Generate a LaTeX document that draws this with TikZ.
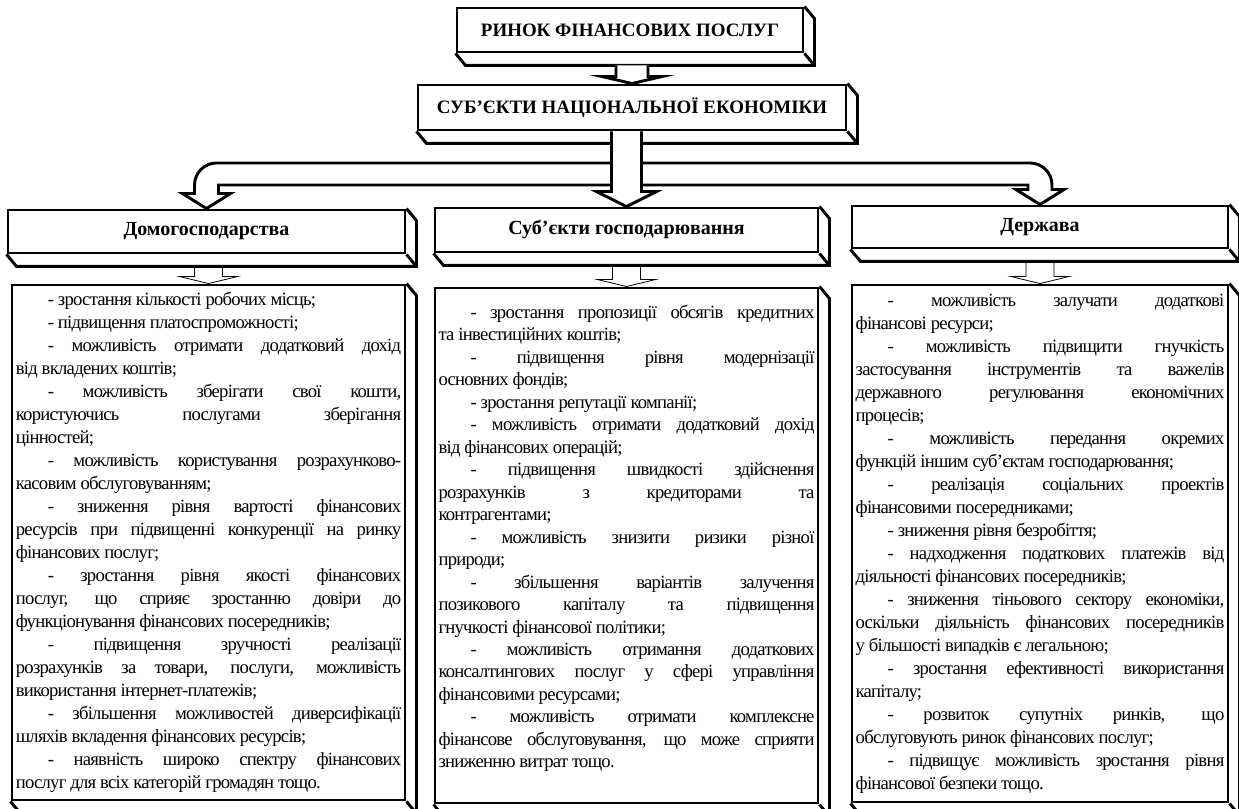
\documentclass[tikz,border=0pt]{standalone}
\usepackage{fontspec}
\setmainfont{Liberation Serif}
\usetikzlibrary{calc}

\hyphenpenalty=10000
\exhyphenpenalty=10000
\tolerance=10000

\newcommand\body{\fontsize{14}{17.25}\selectfont\addfontfeatures{LetterSpace=-4}}
\newcommand\bodym{\fontsize{14}{16.85}\selectfont\addfontfeatures{LetterSpace=-4}}
\newcommand\head{\fontsize{15}{18}\selectfont\bfseries}
\newcommand\toptitle{\fontsize{14.2}{17}\selectfont\bfseries}

% depth of a box, drawn to the lower right
\newcommand\cube[1]{%
  \draw[edge] (#1.north east) -- ++(10,12) -- ($(#1.south east)+(10,12)$)
    -- ($(#1.south west)+(10,12)$) -- (#1.south west)
    (#1.south east) -- ++(10,12);
  \coordinate (#1b) at ($(#1.south)+(0,12)$);}

% block arrow down: [style]{from}{to}{half shaft}{half head}{head length}
\newcommand\blockarr[6][]{%
  \draw[#1] ($(#2 -| #3)+(-#4,0)$) -- ($(#3)+(-#4,-#6)$) -- ($(#3)+(-#5,-#6)$)
    -- (#3) -- ($(#3)+(#5,-#6)$) -- ($(#3)+(#4,-#6)$) -- ($(#2 -| #3)+(#4,0)$);}

\begin{document}
\begin{tikzpicture}[
  x=0.75pt, y=-0.75pt,
  edge/.style={draw, line width=2.2pt, line join=miter},
  box/.style={edge, fill=white, inner sep=0pt, align=center},
  title/.style={box, font=\toptitle, minimum height=33pt},
  hd/.style={box, font=\head},
  txt/.style={box, font=\body, align=justify, inner xsep=2.5pt,
    minimum height=386.25pt,
    execute at begin node={\setlength\parindent{24pt}\hspace*{\parindent}}},
  blk/.style={edge, fill=white},
  thinarr/.style={draw, line width=0.6pt}
]
  \useasboundingbox (0,0) rectangle (1239,809);
  \clip (0,0) rectangle (1239,809);
  \fill[white] (0,0) rectangle (1239,809);

  \node[title, minimum width=259.5pt] (market) at (630,30) {РИНОК ФІНАНСОВИХ ПОСЛУГ};
  \node[title, minimum width=321pt, minimum height=33.75pt] (nat) at (632,107.5)
    {СУБ’ЄКТИ НАЦІОНАЛЬНОЇ ЕКОНОМІКИ};

  \node[hd, minimum width=297.75pt, minimum height=32.25pt] (house) at (206.5,231.5)
    {Домогосподарства};
  \node[hd, minimum width=287.25pt, minimum height=33pt] (firm) at (626.5,230)
    {Суб’єкти господарювання};
  \node[hd, minimum width=282pt, minimum height=31.5pt] (state) at (1040,227)
    {Держава};

  \node[txt, text width=289pt, minimum width=294.75pt] (houseT) at (208.5,542.5) {%
    - зростання кількості робочих місць;\par
    - підвищення платоспроможності;\par
    - можливість отримати додатковий дохід \linebreak від вкладених коштів;\par
    - можливість зберігати свої кошти, \linebreak користуючись послугами зберігання
      \linebreak цінностей;\par
    - можливість користування розрахунково-\linebreak касовим обслуговуванням;\par
    - зниження рівня вартості фінансових \linebreak ресурсів при підвищенні конкуренції на ринку
      \linebreak фінансових послуг;\par
    - зростання рівня якості фінансових \linebreak послуг, що сприяє зростанню довіри до
      \linebreak функціонування фінансових посередників;\par
    - підвищення зручності реалізації \linebreak розрахунків за товари, послуги, можливість
      \linebreak використання інтернет-платежів;\par
    - збільшення можливостей диверсифікації \linebreak шляхів вкладення фінансових ресурсів;\par
    - наявність широко спектру фінансових \linebreak послуг для всіх категорій громадян тощо.};
  \node[txt, font=\bodym, text width=282pt, minimum width=287.25pt] (firmT) at (626.5,545.5) {%
    - зростання пропозиції обсягів кредитних \linebreak та інвестиційних коштів;\par
    - підвищення рівня модернізації \linebreak основних фондів;\par
    - зростання репутації компанії;\par
    - можливість отримати додатковий дохід \linebreak від фінансових операцій;\par
    - підвищення швидкості здійснення \linebreak розрахунків з кредиторами та
      \linebreak контрагентами;\par
    - можливість знизити ризики різної \linebreak природи;\par
    - збільшення варіантів залучення \linebreak позикового капіталу та підвищення
      \linebreak гнучкості фінансової політики;\par
    - можливість отримання додаткових \linebreak консалтингових послуг у сфері управління
      \linebreak фінансовими ресурсами;\par
    - можливість отримати комплексне \linebreak фінансове обслуговування, що може сприяти
      \linebreak зниженню витрат тощо.\par\nointerlineskip\vbox to 10.5pt{}};
  \node[txt, text width=276.5pt, minimum width=282pt, minimum height=387.75pt] (stateT)
    at (1040,543.5) {%
    - можливість залучати додаткові \linebreak фінансові ресурси;\par
    - можливість підвищити гнучкість \linebreak застосування інструментів та важелів
      \linebreak державного регулювання економічних \linebreak процесів;\par
    - можливість передання окремих \linebreak функцій іншим суб’єктам господарювання;\par
    - реалізація соціальних проектів \linebreak фінансовими посередниками;\par
    - зниження рівня безробіття;\par
    - надходження податкових платежів від \linebreak діяльності фінансових посередників;\par
    - зниження тіньового сектору економіки, \linebreak оскільки діяльність фінансових посередників
      \linebreak у більшості випадків є легальною;\par
    - зростання ефективності використання \linebreak капіталу;\par
    - розвиток супутніх ринків, що \linebreak обслуговують ринок фінансових послуг;\par
    - підвищує можливість зростання рівня \linebreak фінансової безпеки тощо.};

  \cube{market} \cube{nat}
  \cube{house} \cube{firm} \cube{state}
  \cube{houseT} \cube{firmT} \cube{stateT}

  % arrows
  \blockarr[blk]{marketb}{nat.north}{16}{30}{7}
  \coordinate (lo) at ($(house.north)+(-12,-15)$);
  \coordinate (li) at ($(house.north)+(12,-15)$);
  \coordinate (ro) at ($(state.north)+(12,-15)$);
  \coordinate (ri) at ($(state.north)+(-12,-15)$);
  \draw[blk] (house.north) -- ++(-24,-15) -- (lo) -- (lo |- 0,185) arc (180:270:22)
    -- ($(ro |- 0,163)+(-22,0)$) arc (270:360:22) -- (ro) -- ++(12,0)
    -- (state.north) -- ++(-24,-15) -- (ri) -- (ri |- 0,185) -- (li |- 0,185)
    -- (li) -- ++(12,0) -- cycle;
  \blockarr[blk]{nat.south}{firm.north}{15}{30}{15}
  \blockarr[thinarr]{houseb}{houseT.north}{14}{29}{7}
  \blockarr[thinarr]{firmb}{firmT.north}{14}{29}{7}
  \blockarr[thinarr]{stateb}{stateT.north}{14}{29}{7}
\end{tikzpicture}
\end{document}
